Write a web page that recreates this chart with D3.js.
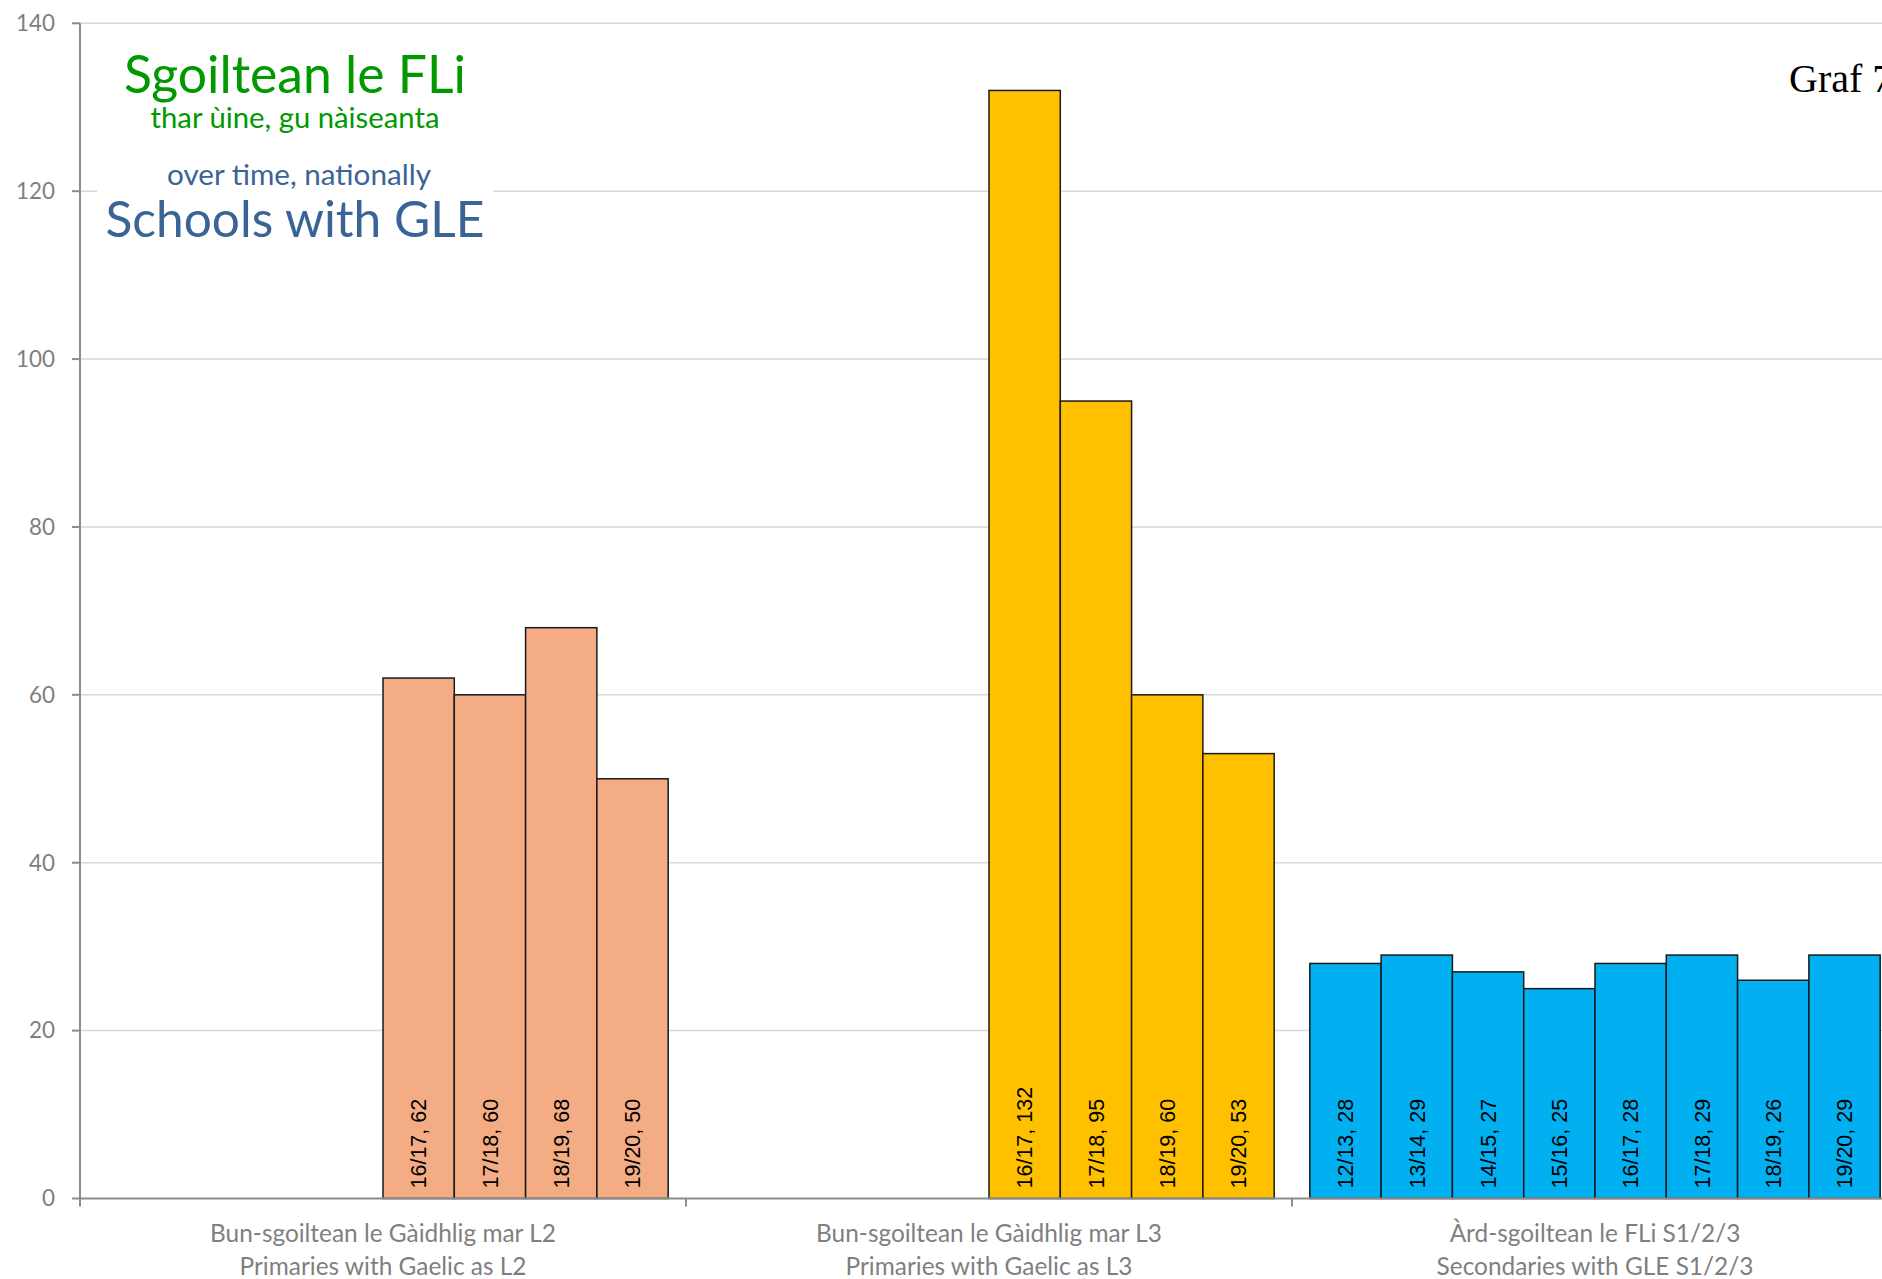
<!DOCTYPE html>
<html>
<head>
<meta charset="utf-8">
<script src="https://cdn.jsdelivr.net/npm/d3@7"></script>
<style>
  html, body { margin: 0; padding: 0; background: #fff; overflow: hidden; }
  svg { display: block; }
</style>
</head>
<body>
<div id="chart"></div>
<script>
// Chart data
const categories = [
  ["Bun-sgoiltean le Gàidhlig mar L2", "Primaries with Gaelic as L2"],
  ["Bun-sgoiltean le Gàidhlig mar L3", "Primaries with Gaelic as L3"],
  ["Àrd-sgoiltean le FLi S1/2/3", "Secondaries with GLE S1/2/3"],
];
const years = ["12/13", "13/14", "14/15", "15/16", "16/17", "17/18", "18/19", "19/20"];
const primaryL2 = [null, null, null, null, 62, 60, 68, 50];
const primaryL3 = [null, null, null, null, 132, 95, 60, 53];
const secondary = [28, 29, 27, 25, 28, 29, 26, 29];
const seriesByCategory = [primaryL2, primaryL3, secondary];
const categoryColors = ["#F4AC84", "#FFC000", "#00B0F0"];
const yTicks = [0, 20, 40, 60, 80, 100, 120, 140];

const width = 1882;
const height = 1279;
const margin = { left: 80, top: 23.3, bottom: 1198.5, right: 1898 };
const sansFont = "Lato, 'Noto Sans', sans-serif";

const svg = d3
  .select("#chart")
  .append("svg")
  .attr("width", width)
  .attr("height", height);

// Scales
const y = d3.scaleLinear().domain([0, 140]).range([margin.bottom, margin.top]);
const x0 = d3
  .scaleBand()
  .domain(d3.range(categories.length))
  .range([margin.left, margin.right])
  .padding(0);
const x1 = d3
  .scaleBand()
  .domain(years)
  .range([0, x0.bandwidth()])
  .paddingInner(0)
  .paddingOuter(0.25);

// scale a text's font size so its width hits a target
function fitWidth(sel, target) {
  const w = sel.node().getComputedTextLength();
  const fs = parseFloat(sel.attr("font-size"));
  const size = (fs * target) / w;
  sel.attr("font-size", size);
  return size;
}

// Gridlines
svg
  .append("g")
  .selectAll("line")
  .data(yTicks.filter((d) => d > 0))
  .enter()
  .append("line")
  .attr("x1", margin.left)
  .attr("x2", width)
  .attr("y1", (d) => y(d))
  .attr("y2", (d) => y(d))
  .attr("stroke", "#d9d9d9")
  .attr("stroke-width", 1.5);

// Title block with white background
const titleX = 295;
svg
  .append("rect")
  .attr("x", 97)
  .attr("y", 32)
  .attr("width", 396)
  .attr("height", 222)
  .attr("fill", "#fff");

const titleLines = [
  { text: "Sgoiltean le FLi", color: "#009900", x: 295, y: 93, w: 342, size: 48 },
  { text: "thar ùine, gu nàiseanta", color: "#009900", x: 295, y: 128, w: 289, size: 26 },
  { text: "over time, nationally", color: "#3B6496", x: 299, y: 185, w: 264, size: 26 },
  { text: "Schools with GLE", color: "#3B6496", x: 295, y: 237, w: 379, size: 48 },
];
titleLines.forEach((t) => {
  const el = svg
    .append("text")
    .attr("x", t.x)
    .attr("y", t.y)
    .attr("text-anchor", "middle")
    .attr("font-family", sansFont)
    .attr("font-size", t.size)
    .attr("fill", t.color)
    .text(t.text);
  fitWidth(el, t.w);
});

// "Graf" label, cut by the right edge
svg
  .append("text")
  .attr("x", 1789)
  .attr("y", 92)
  .attr("font-family", "'Liberation Serif', 'DejaVu Serif', serif")
  .attr("font-size", 40)
  .attr("fill", "#000")
  .text("Graf 7");

// Bars
const groups = svg
  .append("g")
  .selectAll("g")
  .data(seriesByCategory)
  .enter()
  .append("g")
  .attr("transform", (_, i) => `translate(${x0(i)},0)`);

const bar = groups
  .selectAll("g")
  .data((vals, ci) =>
    vals
      .map((v, j) => ({ year: years[j], value: v, ci }))
      .filter((d) => d.value !== null)
  )
  .enter()
  .append("g");

bar
  .append("rect")
  .attr("x", (d) => x1(d.year))
  .attr("y", (d) => y(d.value))
  .attr("width", x1.bandwidth())
  .attr("height", (d) => y(0) - y(d.value))
  .attr("fill", (d) => categoryColors[d.ci])
  .attr("stroke", "#1a1a1a")
  .attr("stroke-width", 1.5);

bar
  .append("text")
  .attr(
    "transform",
    (d) => `translate(${x1(d.year) + x1.bandwidth() / 2},${y(0) - 10}) rotate(-90)`
  )
  .attr("dy", "0.36em")
  .attr("font-family", "'Liberation Sans', Arial, sans-serif")
  .attr("font-size", 21.5)
  .attr("fill", "#000")
  .text((d) => `${d.year}, ${d.value}`);

// Y axis
const yAxis = svg.append("g");
yAxis
  .append("line")
  .attr("x1", margin.left)
  .attr("x2", margin.left)
  .attr("y1", y(140))
  .attr("y2", y(0))
  .attr("stroke", "#8c8c8c")
  .attr("stroke-width", 2);

yAxis
  .selectAll(".ytick")
  .data(yTicks)
  .enter()
  .append("line")
  .attr("x1", margin.left - 8)
  .attr("x2", margin.left)
  .attr("y1", (d) => y(d))
  .attr("y2", (d) => y(d))
  .attr("stroke", "#8c8c8c")
  .attr("stroke-width", 2);

const yLabels = yAxis
  .selectAll(".ylabel")
  .data(yTicks)
  .enter()
  .append("text")
  .attr("x", 55)
  .attr("y", (d) => y(d))
  .attr("dy", "0.35em")
  .attr("text-anchor", "end")
  .attr("font-family", sansFont)
  .attr("font-size", 24)
  .attr("fill", "#7f7f7f")
  .text((d) => d);

// match "100" to its width in the picture
const tickSize = fitWidth(yLabels.filter((d) => d === 100), 39);
yLabels.attr("font-size", tickSize);

// X axis
const xAxis = svg.append("g");
xAxis
  .append("line")
  .attr("x1", margin.left)
  .attr("x2", width)
  .attr("y1", y(0))
  .attr("y2", y(0))
  .attr("stroke", "#8c8c8c")
  .attr("stroke-width", 2);

xAxis
  .selectAll(".xtick")
  .data(d3.range(categories.length + 1))
  .enter()
  .append("line")
  .attr("x1", (i) => margin.left + i * x0.bandwidth())
  .attr("x2", (i) => margin.left + i * x0.bandwidth())
  .attr("y1", y(0))
  .attr("y2", y(0) + 8)
  .attr("stroke", "#8c8c8c")
  .attr("stroke-width", 2);

const catLabels = xAxis
  .selectAll(".xlabel")
  .data(categories)
  .enter()
  .append("text")
  .attr("text-anchor", "middle")
  .attr("font-family", sansFont)
  .attr("font-size", 24)
  .attr("fill", "#7f7f7f");

catLabels
  .selectAll("tspan")
  .data((d, i) => d.map((line, k) => ({ line, k, i })))
  .enter()
  .append("tspan")
  .attr("x", (d) => x0(d.i) + x0.bandwidth() / 2)
  .attr("y", (d) => (d.k === 0 ? 1242 : 1275))
  .text((d) => d.line);

// size labels from the first line of the first category
const firstLine = catLabels.filter((_, i) => i === 0).select("tspan");
const w0 = firstLine.node().getComputedTextLength();
catLabels.attr("font-size", (24 * 346) / w0);
</script>
</body>
</html>
